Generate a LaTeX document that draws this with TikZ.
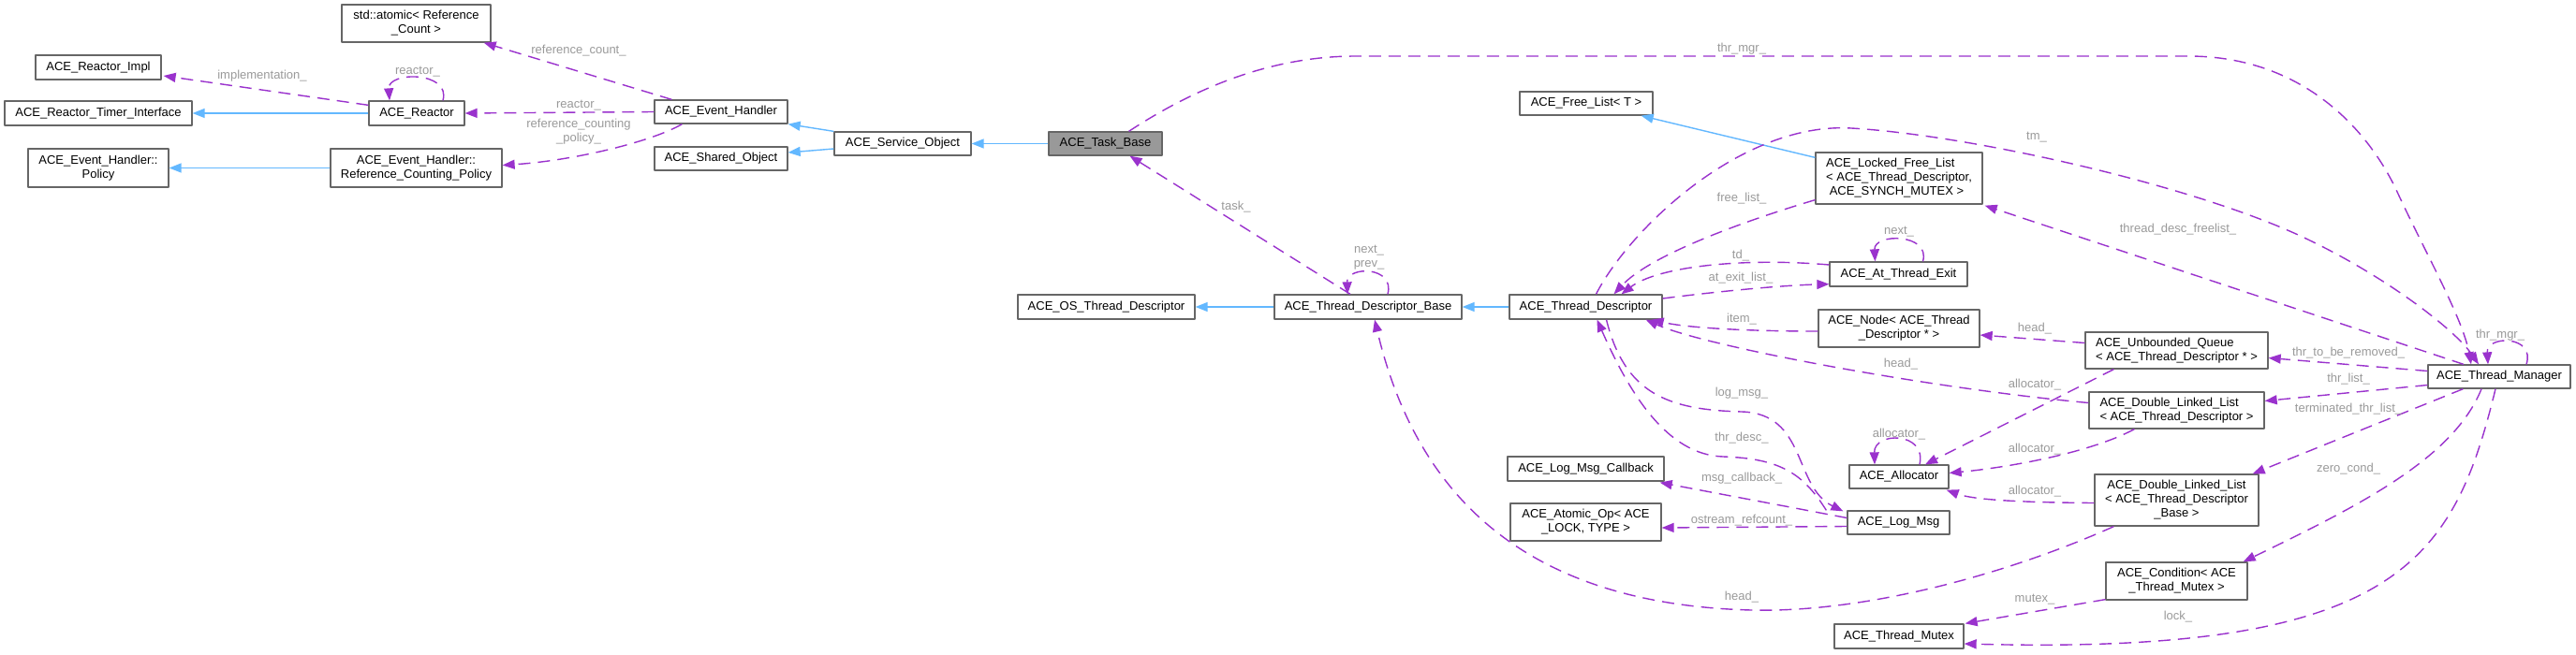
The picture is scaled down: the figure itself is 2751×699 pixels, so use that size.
\documentclass[tikz,border=0pt]{standalone}
\usepackage{fontspec}
\setmainfont{Liberation Sans}
\usetikzlibrary{arrows.meta,calc}
\definecolor{boxgray}{HTML}{666666}
\definecolor{taskgray}{HTML}{999999}
\definecolor{inhblue}{HTML}{63B8FF}
\definecolor{usepurple}{HTML}{9A32CD}
\definecolor{lblgray}{HTML}{9A9A9A}
\newcommand{\dxfont}{\fontsize{13}{15}\selectfont}
\begin{document}
\begin{tikzpicture}[x=1pt,y=-1pt,line join=round,
		cls/.style={draw=boxgray,line width=1.3pt,fill=white,inner sep=0pt,align=center,font=\dxfont},
		inh/.style={draw=inhblue,line width=1.4pt,-{Triangle[length=13pt,width=10pt]}},
		use/.style={draw=usepurple,line width=1.4pt,dash pattern=on 13pt off 8pt,-{Triangle[length=13pt,width=10pt]}},
		lbl/.style={text=lblgray,font=\dxfont,inner sep=0pt,align=center}]
				\useasboundingbox (0,0) rectangle (2751,699);
				\fill[white] (0,0) rectangle (2751,699);
				% classes
				\node[cls,minimum width=159,minimum height=40] (atom) at (444.5,25) {std::atomic< Reference\\\_Count >};
				\node[cls,minimum width=134,minimum height=26] (rimpl) at (105,72) {ACE\_Reactor\_Impl};
				\node[cls,minimum width=200,minimum height=26] (rti) at (105,121) {ACE\_Reactor\_Timer\_Interface};
				\node[cls,minimum width=102,minimum height=26] (reactor) at (445,121) {ACE\_Reactor};
				\node[cls,minimum width=150,minimum height=41] (policy) at (105,179.5) {ACE\_Event\_Handler::\\Policy};
				\node[cls,minimum width=183,minimum height=41] (rcpolicy) at (444.5,179.5) {ACE\_Event\_Handler::\\Reference\_Counting\_Policy};
				\node[cls,minimum width=142,minimum height=25] (evh) at (770,119.5) {ACE\_Event\_Handler};
				\node[cls,minimum width=142,minimum height=25] (shobj) at (770,169.5) {ACE\_Shared\_Object};
				\node[cls,minimum width=146,minimum height=25] (svcobj) at (964,153.5) {ACE\_Service\_Object};
				\node[cls,fill=taskgray,minimum width=121,minimum height=25] (task) at (1180.5,153.5) {ACE\_Task\_Base};
				\node[cls,minimum width=142,minimum height=25] (freelist) at (1694,110.5) {ACE\_Free\_List< T >};
				\node[cls,align=left,minimum width=178,minimum height=55] (lfl) at (2028,190.5) {ACE\_Locked\_Free\_List\\< ACE\_Thread\_Descriptor,\\ \ ACE\_SYNCH\_MUTEX >};
				\node[cls,minimum width=189,minimum height=26] (osdesc) at (1181.5,328) {ACE\_OS\_Thread\_Descriptor};
				\node[cls,minimum width=200,minimum height=26] (tdbase) at (1461,328) {ACE\_Thread\_Descriptor\_Base};
				\node[cls,minimum width=163,minimum height=26] (tdesc) at (1693.5,328) {ACE\_Thread\_Descriptor};
				\node[cls,minimum width=147,minimum height=26] (ate) at (2027.5,293) {ACE\_At\_Thread\_Exit};
				\node[cls,minimum width=172,minimum height=40] (tnode) at (2028,351) {ACE\_Node< ACE\_Thread\\\_Descriptor * >};
				\node[cls,align=left,minimum width=195,minimum height=39] (uq) at (2324.5,374.5) {ACE\_Unbounded\_Queue\\< ACE\_Thread\_Descriptor * >};
				\node[cls,align=left,minimum width=187,minimum height=39] (dll) at (2324.5,438.5) {ACE\_Double\_Linked\_List\\< ACE\_Thread\_Descriptor >};
				\node[cls,minimum width=152,minimum height=25] (tm) at (2669,402.5) {ACE\_Thread\_Manager};
				\node[cls,minimum width=106,minimum height=25] (alloc) at (2028,509.5) {ACE\_Allocator};
				\node[cls,minimum width=175,minimum height=55] (dllb) at (2324.5,534.5) {ACE\_Double\_Linked\_List\\< ACE\_Thread\_Descriptor\\\_Base >};
				\node[cls,minimum width=151,minimum height=40] (cond) at (2324.5,621) {ACE\_Condition< ACE\\\_Thread\_Mutex >};
				\node[cls,minimum width=138,minimum height=26] (tmutex) at (2028,680) {ACE\_Thread\_Mutex};
				\node[cls,minimum width=167,minimum height=26] (lmcb) at (1693.5,501) {ACE\_Log\_Msg\_Callback};
				\node[cls,minimum width=161,minimum height=40] (atomop) at (1693.5,558) {ACE\_Atomic\_Op< ACE\\\_LOCK, TYPE >};
				\node[cls,minimum width=109,minimum height=25] (logmsg) at (2027.5,558.5) {ACE\_Log\_Msg};
				% inheritance
				\draw[inh] (reactor) -- (rti);
				\draw[inh] (rcpolicy) -- (policy);
				\draw[inh] (svcobj.north west) -- (evh.south east);
				\draw[inh] ($(svcobj.west)+(0,5.5)$) -- ($(shobj.east)+(0,-6.5)$);
				\draw[inh] (task) -- (svcobj);
				\draw[inh] (tdbase) -- (osdesc);
				\draw[inh] (tdesc) -- (tdbase);
				\draw[inh] ($(lfl.north west)+(0,6)$) -- ($(freelist.south east)+(-13,0)$);
				% members
				\draw[use] ($(reactor.north west)+(0,5)$) -- ($(rimpl.east)+(2,9)$);
				\draw[use] ($(reactor.north)+(28,0)$) .. controls (482,76) and (414,76) .. ($(reactor.north)+(-29,0)$);
				\draw[use] ($(evh.north west)+(19,0)$) -- ($(atom.south east)+(-8,0)$);
				\draw[use] (evh.west) -- (reactor.east);
				\draw[use] ($(evh.south west)+(30,0)$) .. controls (695,152) and (610,172) .. ($(rcpolicy.east)+(0,-3)$);
				\draw[use] ($(task.north)+(25,0)$) .. controls (1290,85) and (1370,60) .. (1448,60) -- (2337,60)
					.. controls (2460,60) and (2530,140) .. (2560,205) .. controls (2590,270) and (2630,340) .. ($(tm.north)+(-30,0)$);
				\draw[use] ($(tdesc.north)+(11,0)$) .. controls (1740,245) and (1860,130) .. (1977,137)
					.. controls (2100,144) and (2330,195) .. (2452,250) .. controls (2540,290) and (2620,350) .. ($(tm.north)+(-22,0)$);
				\draw[use] ($(lfl.south west)+(0,-5)$) .. controls (1850,240) and (1760,275) .. ($(tdesc.north)+(30,0)$);
				\draw[use] ($(tm.north)+(-38,0)$) -- ($(lfl.south east)+(2,1)$);
				\draw[use] ($(tm.north)+(29,0)$) .. controls (2708,358) and (2655,358) .. ($(tm.north)+(-12,0)$);
				\draw[use] ($(ate.north)+(26,0)$) .. controls (2062,249) and (2001,249) .. ($(ate.north)+(-25,0)$);
				\draw[use] ($(ate.west)+(0,-10)$) .. controls (1860,275) and (1770,285) .. ($(tdesc.north)+(38,0)$);
				\draw[use] ($(tdesc.east)+(0,-9)$) .. controls (1830,312) and (1900,305) .. ($(ate.south west)+(0,-3)$);
				\draw[use] ($(tnode.west)+(0,3)$) .. controls (1860,354) and (1800,350) .. ($(tdesc.south east)+(-12,0)$);
				\draw[use] ($(dll.west)+(0,-8)$) .. controls (2060,415) and (1820,370) .. ($(tdesc.south east)+(-18,0)$);
				\draw[use] ($(uq.west)+(0,-8)$) -- ($(tnode.east)+(0,7)$);
				\draw[use] ($(tm.west)+(0,-6)$) -- ($(uq.east)+(0,8)$);
				\draw[use] ($(tm.west)+(0,9)$) -- ($(dll.east)+(0,-10)$);
				\draw[use] ($(uq.south west)+(31,0)$) -- ($(alloc.north)+(28,0)$);
				\draw[use] ($(dll.south west)+(49,0)$) .. controls (2230,485) and (2140,500) .. ($(alloc.east)+(0,-4)$);
				\draw[use] ($(dllb.west)+(0,3)$) .. controls (2170,537) and (2110,535) .. ($(alloc.south east)+(-3,1)$);
				\draw[use] ($(alloc.north)+(22,0)$) .. controls (2058,461) and (2001,461) .. ($(alloc.north)+(-26,0)$);
				\draw[use] ($(tm.south west)+(38,0)$) -- ($(dllb.north east)+(-7,0)$);
				\draw[use] ($(tm.south)+(-19,0)$) .. controls (2620,490) and (2520,540) .. ($(cond.north east)+(-5,0)$);
				\draw[use] ($(tm.south)+(-4,0)$) .. controls (2620,600) and (2560,700) .. ($(tmutex.east)+(0,8)$);
				\draw[use] ($(cond.south west)+(0,-1)$) -- ($(tmutex.north east)+(1,0)$);
				\draw[use] ($(logmsg.west)+(0,-5)$) -- ($(lmcb.south east)+(-5,1)$);
				\draw[use] ($(logmsg.west)+(0,4)$) -- ($(atomop.east)+(0,6)$);
				\draw[use] ($(tdesc.south)+(22,0)$) .. controls (1735,420) and (1780,438) .. (1860,440)
					.. controls (1930,442) and (1915,520) .. ($(logmsg.north west)+(-4,1)$);
				\draw[use] ($(logmsg.north west)+(-22,0)$) .. controls (1925,505) and (1900,490) .. (1840,488)
					.. controls (1780,486) and (1740,420) .. ($(tdesc.south)+(12,0)$);
				\draw[use] ($(dllb.south west)+(21,0)$) .. controls (2140,615) and (1990,655) .. (1870,652)
					.. controls (1640,646) and (1515,540) .. ($(tdbase.south)+(7,0)$);
				\draw[use] ($(tdbase.north)+(21,0)$) .. controls (1490,284) and (1438,284) .. ($(tdbase.north)+(-22,0)$);
				\draw[use] ($(tdbase.north)+(-19,0)$) -- ($(task.south)+(26,0)$);
				% member names
				\node[lbl] (l-impl) at (280,81) {implementation\_};
				\node[lbl] (l-reactorself) at (446,77) {reactor\_};
				\node[lbl] (l-refcount) at (618,54) {reference\_count\_};
				\node[lbl] (l-reactor) at (618,113) {reactor\_};
				\node[lbl] (l-rcpolicy) at (618,140.5) {reference\_counting\\\_policy\_};
				\node[lbl] (l-thrmgr) at (1860,52) {thr\_mgr\_};
				\node[lbl] (l-task) at (1320,221) {task\_};
				\node[lbl] (l-nextprev) at (1462,275.5) {next\_\\prev\_};
				\node[lbl] (l-tm) at (2175,147) {tm\_};
				\node[lbl] (l-freelist) at (1860,212) {free\_list\_};
				\node[lbl] (l-next) at (2028,248) {next\_};
				\node[lbl] (l-td) at (1859,273) {td\_};
				\node[lbl] (l-atexit) at (1859,297) {at\_exit\_list\_};
				\node[lbl] (l-item) at (1860,341) {item\_};
				\node[lbl] (l-headq) at (2173,351) {head\_};
				\node[lbl] (l-headd) at (2030,389) {head\_};
				\node[lbl] (l-descfree) at (2326,245) {thread\_desc\_freelist\_};
				\node[lbl] (l-removed) at (2508,377) {thr\_to\_be\_removed\_};
				\node[lbl] (l-thrlist) at (2508,405) {thr\_list\_};
				\node[lbl] (l-thrmgrself) at (2670,358) {thr\_mgr\_};
				\node[lbl] (l-allocq) at (2173,411) {allocator\_};
				\node[lbl] (l-termlist) at (2508,437) {terminated\_thr\_list\_};
				\node[lbl] (l-logmsg) at (1860,420) {log\_msg\_};
				\node[lbl] (l-thrdesc) at (1860,468) {thr\_desc\_};
				\node[lbl] (l-allocself) at (2028,464) {allocator\_};
				\node[lbl] (l-allocd) at (2173,480) {allocator\_};
				\node[lbl] (l-zerocond) at (2508,501) {zero\_cond\_};
				\node[lbl] (l-msgcb) at (1860,511) {msg\_callback\_};
				\node[lbl] (l-allocb) at (2173,525) {allocator\_};
				\node[lbl] (l-ostream) at (1860,556) {ostream\_refcount\_};
				\node[lbl] (l-headb) at (1860,638) {head\_};
				\node[lbl] (l-mutex) at (2173,641) {mutex\_};
				\node[lbl] (l-lock) at (2326,659) {lock\_};
		\end{tikzpicture}
\end{document}
